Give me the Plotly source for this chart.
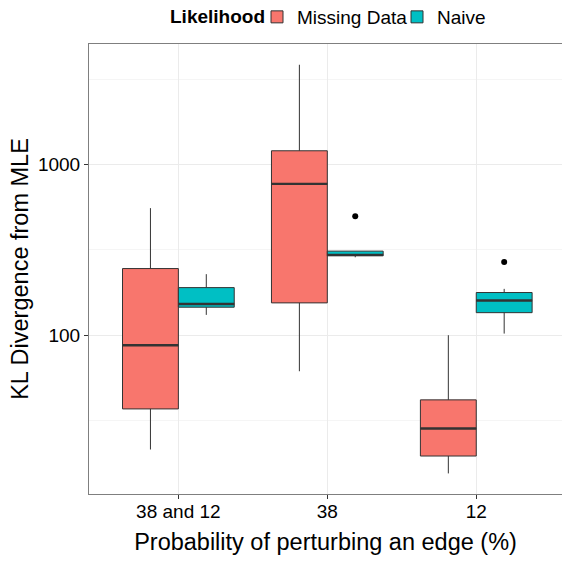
import plotly.graph_objects as go

# ---- data ----
categories = ["38 and 12", "38", "12"]
groups = ["Missing Data", "Naive"]

missing_lower = [21.4, 61.5, 15.5]
missing_q1 = [37.0, 154.6, 19.6]
missing_median = [87.3, 770.0, 28.4]
missing_q3 = [245.7, 1203.0, 41.8]
missing_upper = [555.0, 3838.0, 100.0]

naive_lower = [131.5, 286.0, 102.2]
naive_q1 = [145.9, 291.7, 135.5]
naive_median = [152.4, 295.5, 159.6]
naive_q3 = [190.0, 310.7, 177.8]
naive_upper = [227.8, 310.7, 186.8]

naive_outlier_cat = [1, 2]
naive_outlier_val = [498.0, 268.0]

legend_title = "Likelihood"

colors = {"Missing Data": "#F8766D", "Naive": "#00BFC4"}
dodge = 0.1875
box_w = 0.375
FONT = "Liberation Sans, Arial, Helvetica, sans-serif"
W, H = 562, 561

fig = go.Figure()

stats = {
    "Missing Data": (missing_lower, missing_q1, missing_median, missing_q3, missing_upper, -dodge),
    "Naive": (naive_lower, naive_q1, naive_median, naive_q3, naive_upper, dodge),
}

for name in groups:
    lo, q1, med, q3, up, off = stats[name]
    xs = [i + off for i in range(len(categories))]
    fig.add_trace(go.Box(
        x=xs, q1=q1, median=med, q3=q3, lowerfence=lo, upperfence=up,
        width=box_w, name=name, fillcolor=colors[name],
        line=dict(color="#333333", width=1), whiskerwidth=0,
        boxpoints=False, hoverinfo="skip",
    ))

# thicker median bars (ggplot fattens the median line)
for name in groups:
    lo, q1, med, q3, up, off = stats[name]
    xs = [i + off for i in range(len(categories))]
    fig.add_trace(go.Box(
        x=xs, q1=med, median=med, q3=med, lowerfence=med, upperfence=med,
        width=box_w, name=name, fillcolor="rgba(0,0,0,0)",
        line=dict(color="#333333", width=2.4), whiskerwidth=0,
        boxpoints=False, showlegend=False, hoverinfo="skip",
    ))

fig.add_trace(go.Scatter(
    x=[c + dodge for c in naive_outlier_cat], y=naive_outlier_val,
    mode="markers", marker=dict(color="black", size=6),
    showlegend=False, hoverinfo="skip",
))

fig.update_layout(
    width=W, height=H,
    margin=dict(l=89, r=0, t=44, b=67, autoexpand=False),
    paper_bgcolor="white", plot_bgcolor="white",
    font=dict(family=FONT, size=19, color="black"),
    boxmode="overlay",
    legend=dict(
        orientation="h", xref="container", x=257 / W, xanchor="left",
        yref="container", y=1 - 17 / H, yanchor="middle",
        font=dict(size=19), itemwidth=30, tracegroupgap=0,
        entrywidth=95, entrywidthmode="pixels",
        bgcolor="rgba(0,0,0,0)",
    ),
    showlegend=True,
    annotations=[dict(
        text="<b>" + legend_title + "</b>", xref="paper", yref="paper",
        x=(267 - 89) / (W - 89), xanchor="right",
        y=1 + (44 - 17) / (H - 44 - 67), yanchor="middle",
        showarrow=False, font=dict(size=19, color="black"),
    )],
)

fig.update_xaxes(
    range=[-0.6, 2.5757],
    tickmode="array", tickvals=list(range(len(categories))), ticktext=categories,
    showgrid=True, gridcolor="#ebebeb", gridwidth=1,
    showline=True, linecolor="#7f7f7f", linewidth=1, mirror=True,
    ticks="outside", ticklen=4, tickcolor="#333333", tickwidth=1,
    ticklabelstandoff=-4,
    tickfont=dict(size=19, color="black"),
    zeroline=False,
    title=dict(text="Probability of perturbing an edge (%)", font=dict(size=23.5), standoff=12),
)

fig.update_yaxes(
    type="log", range=[1.0698, 3.7057],
    tickmode="array", tickvals=[100, 1000], ticktext=["100", "1000"],
    showgrid=True, gridcolor="#ebebeb", gridwidth=1,
    minor=dict(tickmode="array", tickvals=[10 ** 1.5, 10 ** 2.5, 10 ** 3.5],
               showgrid=True, gridcolor="#f5f5f5", gridwidth=1, ticks=""),
    showline=True, linecolor="#7f7f7f", linewidth=1, mirror=False,
    ticks="outside", ticklen=4, tickcolor="#333333", tickwidth=1,
    tickfont=dict(size=19, color="black"),
    zeroline=False,
    title=dict(text="KL Divergence from MLE", font=dict(size=23.5), standoff=2),
)

fig.write_html(
    "out.html",
    config={"displayModeBar": False},
    post_script="document.body.style.margin='0';document.body.style.overflow='hidden';",
)
